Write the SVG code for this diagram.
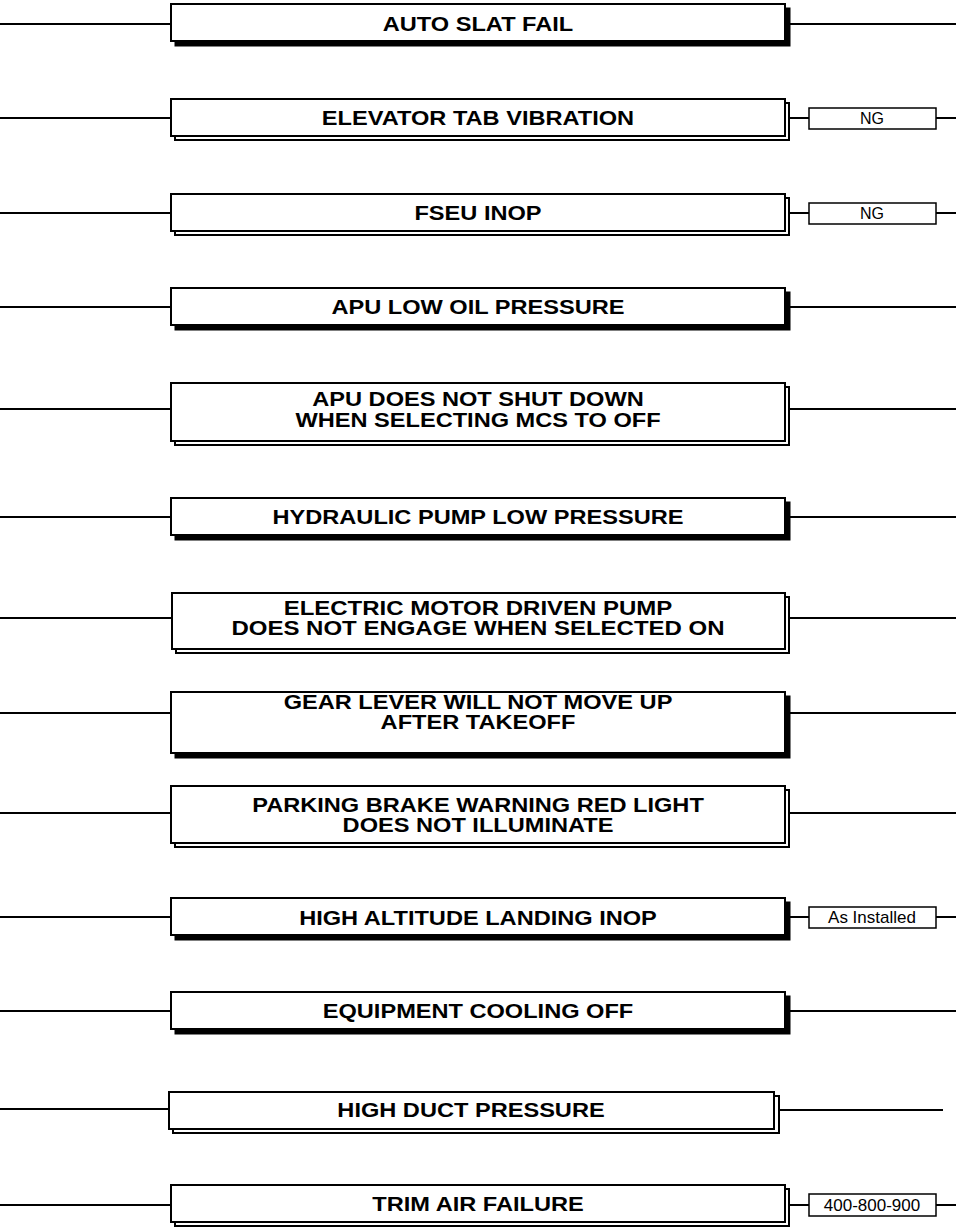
<svg xmlns="http://www.w3.org/2000/svg" width="956" height="1228" viewBox="0 0 956 1228">
<style>
.bg{fill:#fff}
.box{fill:#fff;stroke:#000;stroke-width:2}
.sh{fill:#000;stroke:#000;stroke-width:1}
.dbl{fill:#fff;stroke:#000;stroke-width:2}
.ln{stroke:#000;stroke-width:2;fill:none}
.t{font-family:"Liberation Sans",Arial,sans-serif;font-weight:bold;font-size:20px;text-anchor:middle;fill:#000}
.tag{fill:#fff;stroke:#000;stroke-width:1.5}
.tt{font-family:"Liberation Sans",Arial,sans-serif;font-size:16px;text-anchor:middle;fill:#000}
.tt2{font-family:"Liberation Sans",Arial,sans-serif;font-size:17px;text-anchor:middle;fill:#000}
</style>
<rect class="bg" x="0" y="0" width="956" height="1228"/>
<g id="connectors">
<path class="ln" d="M0 24H171M790 24H956"/>
<path class="ln" d="M0 118H171M790 118H809M936 118H956"/>
<path class="ln" d="M0 213H171M790 213H809M936 213H956"/>
<path class="ln" d="M0 307H171M790 307H956"/>
<path class="ln" d="M0 409H171M790 409H956"/>
<path class="ln" d="M0 517H171M790 517H956"/>
<path class="ln" d="M0 618H172M790 618H956"/>
<path class="ln" d="M0 713H171M790 713H956"/>
<path class="ln" d="M0 813H171M790 813H956"/>
<path class="ln" d="M0 917H171M790 917H809M936 917H956"/>
<path class="ln" d="M0 1011H171M790 1011H956"/>
<path class="ln" d="M0 1109H169M779 1110H943"/>
<path class="ln" d="M0 1205H171M790 1205H809M936 1205H956"/>
</g>
<g id="n1"><rect class="sh" x="175" y="8" width="615" height="38"/><rect class="box" x="171" y="4" width="614" height="37"/><text class="t" transform="matrix(1.18 0 0 1 478 31)">AUTO SLAT FAIL</text></g>
<g id="n2"><rect class="dbl" x="175" y="103" width="614" height="37"/><rect class="box" x="171" y="99" width="614" height="37"/><text class="t" transform="matrix(1.18 0 0 1 478 125)">ELEVATOR TAB VIBRATION</text></g>
<g id="n2b"><rect class="tag" x="809" y="108" width="127" height="21"/><text class="tt" x="872" y="124">NG</text></g>
<g id="n3"><rect class="dbl" x="175" y="198" width="614" height="37"/><rect class="box" x="171" y="194" width="614" height="37"/><text class="t" transform="matrix(1.18 0 0 1 478 220)">FSEU INOP</text></g>
<g id="n3b"><rect class="tag" x="809" y="203" width="127" height="21"/><text class="tt" x="872" y="219">NG</text></g>
<g id="n4"><rect class="sh" x="175" y="292" width="615" height="38"/><rect class="box" x="171" y="288" width="614" height="37"/><text class="t" transform="matrix(1.18 0 0 1 478 314)">APU LOW OIL PRESSURE</text></g>
<g id="n5"><rect class="dbl" x="175" y="387" width="614" height="58"/><rect class="box" x="171" y="383" width="614" height="58"/><text class="t" transform="matrix(1.18 0 0 1 478 406)">APU DOES NOT SHUT DOWN</text><text class="t" transform="matrix(1.18 0 0 1 478 427)">WHEN SELECTING MCS TO OFF</text></g>
<g id="n6"><rect class="sh" x="175" y="502" width="615" height="38"/><rect class="box" x="171" y="498" width="614" height="37"/><text class="t" transform="matrix(1.18 0 0 1 478 524)">HYDRAULIC PUMP LOW PRESSURE</text></g>
<g id="n7"><rect class="dbl" x="176" y="597" width="613" height="56"/><rect class="box" x="172" y="593" width="613" height="56"/><text class="t" transform="matrix(1.2 0 0 1 478 615)">ELECTRIC MOTOR DRIVEN PUMP</text><text class="t" transform="matrix(1.2 0 0 1 478 635)">DOES NOT ENGAGE WHEN SELECTED ON</text></g>
<g id="n8"><rect class="sh" x="175" y="696" width="615" height="62"/><rect class="box" x="171" y="692" width="614" height="61"/><text class="t" transform="matrix(1.18 0 0 1 478 709)">GEAR LEVER WILL NOT MOVE UP</text><text class="t" transform="matrix(1.18 0 0 1 478 729)">AFTER TAKEOFF</text></g>
<g id="n9"><rect class="dbl" x="175" y="790" width="614" height="57"/><rect class="box" x="171" y="786" width="614" height="57"/><text class="t" transform="matrix(1.18 0 0 1 478 812)">PARKING BRAKE WARNING RED LIGHT</text><text class="t" transform="matrix(1.18 0 0 1 478 832)">DOES NOT ILLUMINATE</text></g>
<g id="n10"><rect class="sh" x="175" y="902" width="615" height="38"/><rect class="box" x="171" y="898" width="614" height="37"/><text class="t" transform="matrix(1.18 0 0 1 478 925)">HIGH ALTITUDE LANDING INOP</text></g>
<g id="n10b"><rect class="tag" x="809" y="907" width="127" height="21"/><text class="tt2" x="872" y="923">As Installed</text></g>
<g id="n11"><rect class="sh" x="175" y="996" width="615" height="38"/><rect class="box" x="171" y="992" width="614" height="37"/><text class="t" transform="matrix(1.18 0 0 1 478 1018)">EQUIPMENT COOLING OFF</text></g>
<g id="n12"><rect class="dbl" x="173" y="1096" width="606" height="37"/><rect class="box" x="169" y="1092" width="605" height="37"/><text class="t" transform="matrix(1.18 0 0 1 471 1117)">HIGH DUCT PRESSURE</text></g>
<g id="n13"><rect class="dbl" x="175" y="1189" width="614" height="37"/><rect class="box" x="171" y="1185" width="614" height="37"/><text class="t" transform="matrix(1.18 0 0 1 478 1211)">TRIM AIR FAILURE</text></g>
<g id="n13b"><rect class="tag" x="809" y="1194" width="127" height="22"/><text class="tt2" x="872" y="1211">400-800-900</text></g>
</svg>
